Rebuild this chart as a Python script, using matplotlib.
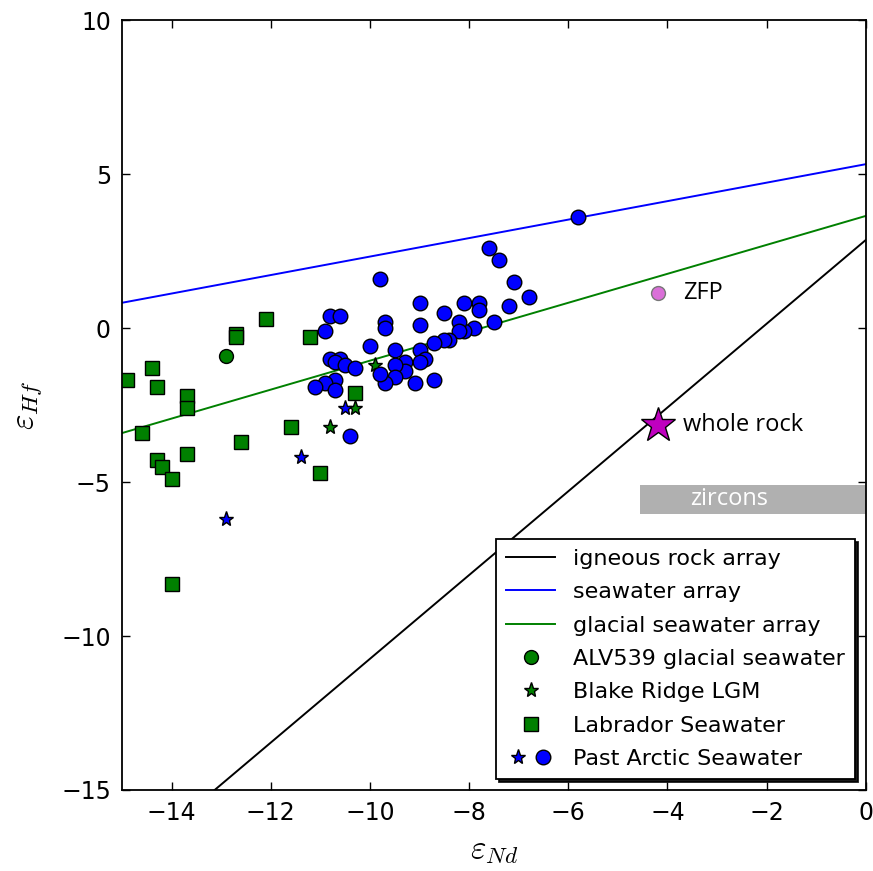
import matplotlib
matplotlib.use("Agg")
import matplotlib.pyplot as plt
import numpy as np
from matplotlib.legend_handler import HandlerTuple
from matplotlib.patches import Rectangle

# ---- data ----
lab_nd = [-14.9, -14.4, -14.3, -13.7, -13.7, -14.6, -13.7, -14.3, -14.2, -14.0,
          -12.7, -12.7, -12.1, -11.2, -12.6, -11.6, -11.0, -10.3, -14.0]
lab_hf = [-1.7, -1.3, -1.9, -2.2, -2.6, -3.4, -4.1, -4.3, -4.5, -4.9,
          -0.2, -0.3, 0.3, -0.3, -3.7, -3.2, -4.7, -2.1, -8.3]

alv_nd = [-12.9]
alv_hf = [-0.9]

blake_nd = [-9.9, -10.3, -10.8]
blake_hf = [-1.2, -2.6, -3.2]

arc_star_nd = [-10.5, -11.4, -12.9]
arc_star_hf = [-2.6, -4.2, -6.2]

arc_circ_nd = [-5.8, -7.6, -7.4, -7.1, -6.8, -7.2, -7.5, -7.8, -7.8, -8.1,
               -7.9, -8.1, -8.2, -8.2, -8.4, -8.5, -8.5, -8.7, -9.0, -9.0,
               -9.0, -8.9, -9.0, -8.7, -9.1, -9.3, -9.3, -9.5, -9.5, -9.5,
               -9.7, -9.8, -10.0, -9.7, -9.7, -9.8, -10.8, -10.6, -10.9, -10.8,
               -10.6, -10.7, -10.5, -10.3, -10.7, -10.9, -11.1, -10.7, -10.4]
arc_circ_hf = [3.6, 2.6, 2.2, 1.5, 1.0, 0.7, 0.2, 0.8, 0.6, 0.8,
               0.0, -0.1, 0.2, -0.1, -0.4, -0.4, 0.5, -0.5, 0.8, 0.1,
               -0.7, -1.0, -1.1, -1.7, -1.8, -1.1, -1.4, -0.7, -1.2, -1.6,
               -1.8, -1.5, -0.6, 0.2, 0.0, 1.6, 0.4, 0.4, -0.1, -1.0,
               -1.0, -1.1, -1.2, -1.3, -1.7, -1.8, -1.9, -2.0, -3.5]

zfp_nd, zfp_hf = -4.2, 1.15
wr_nd, wr_hf = -4.2, -3.15
zircon_nd = (-4.55, 0.0)
zircon_hf = (-6.05, -5.1)
zircon_label_nd = -2.75

# array lines: slope, intercept
igneous = (1.36, 2.86)
seawater = (0.30, 5.32)
glacial = (0.47, 3.64)

# ---- style ----
plt.rcParams['mathtext.fontset'] = 'cm'
plt.rcParams['xtick.direction'] = 'in'
plt.rcParams['ytick.direction'] = 'in'
plt.rcParams['xtick.top'] = True
plt.rcParams['ytick.right'] = True

fig = plt.figure(figsize=(8.73, 8.71), dpi=100)
ax = fig.add_axes([0.1398, 0.093, 0.852, 0.884])

xs = np.array([-15.0, 0.0])
l1, = ax.plot(xs, igneous[0] * xs + igneous[1], color='k', lw=1.4)
l2, = ax.plot(xs, seawater[0] * xs + seawater[1], color='b', lw=1.4)
l3, = ax.plot(xs, glacial[0] * xs + glacial[1], color='g', lw=1.4)

ax.add_patch(Rectangle((zircon_nd[0], zircon_hf[0]), zircon_nd[1] - zircon_nd[0],
                       zircon_hf[1] - zircon_hf[0], facecolor='#b0b0b0', edgecolor='none',
                       zorder=1, clip_on=True))
ax.text(zircon_label_nd, (zircon_hf[0] + zircon_hf[1]) / 2 + 0.02,
        'zircons', color='white', fontsize=17, ha='center', va='center', family='Open Sans')

hA, = ax.plot(alv_nd, alv_hf, 'o', color='g', mec='k', ms=10)
hB, = ax.plot(blake_nd, blake_hf, '*', color='g', mec='k', ms=11)
hL, = ax.plot(lab_nd, lab_hf, 's', color='g', mec='k', ms=10)
hS, = ax.plot(arc_star_nd, arc_star_hf, '*', color='b', mec='k', ms=11)
hC, = ax.plot(arc_circ_nd, arc_circ_hf, 'o', color='b', mec='k', ms=10.5)

ax.plot([zfp_nd], [zfp_hf], 'o', color='#da6fd8', mec='#777777', ms=10)
ax.plot([wr_nd], [wr_hf], '*', color='m', mec='k', ms=26)
ax.text(zfp_nd + 0.52, zfp_hf, 'ZFP', fontsize=17, va='center', family='Open Sans')
ax.text(wr_nd + 0.52, wr_hf, 'whole rock', fontsize=17, va='center', family='Open Sans')

ax.set_xlim(-15, 0)
ax.set_ylim(-15, 10)
ax.set_xticks([-14, -12, -10, -8, -6, -4, -2, 0])
ax.set_yticks([-15, -10, -5, 0, 5, 10])
ax.tick_params(labelsize=17, length=6, width=1, pad=8)
for s in ax.spines.values():
    s.set_linewidth(1.3)

ax.set_xlabel(r'$\varepsilon_{Nd}$', fontsize=24, labelpad=6)
ax.set_ylabel(r'$\varepsilon_{Hf}$', fontsize=24, labelpad=12)

leg = ax.legend([l1, l2, l3, hA, hB, hL, (hS, hC)],
                ['igneous rock array', 'seawater array', 'glacial seawater array',
                 'ALV539 glacial seawater', 'Blake Ridge LGM', 'Labrador Seawater',
                 'Past Arctic Seawater'],
                handler_map={tuple: HandlerTuple(ndivide=None, pad=0.1)},
                loc='lower right', fontsize=16, numpoints=1, handlelength=2.2,
                handletextpad=0.8, labelspacing=0.6, fancybox=False,
                shadow={'color': 'k', 'alpha': 0.9}, framealpha=1,
                edgecolor='k', borderaxespad=0.5, borderpad=0.45)
leg.get_frame().set_linewidth(1.3)

fig.savefig('out.png', dpi=100)
